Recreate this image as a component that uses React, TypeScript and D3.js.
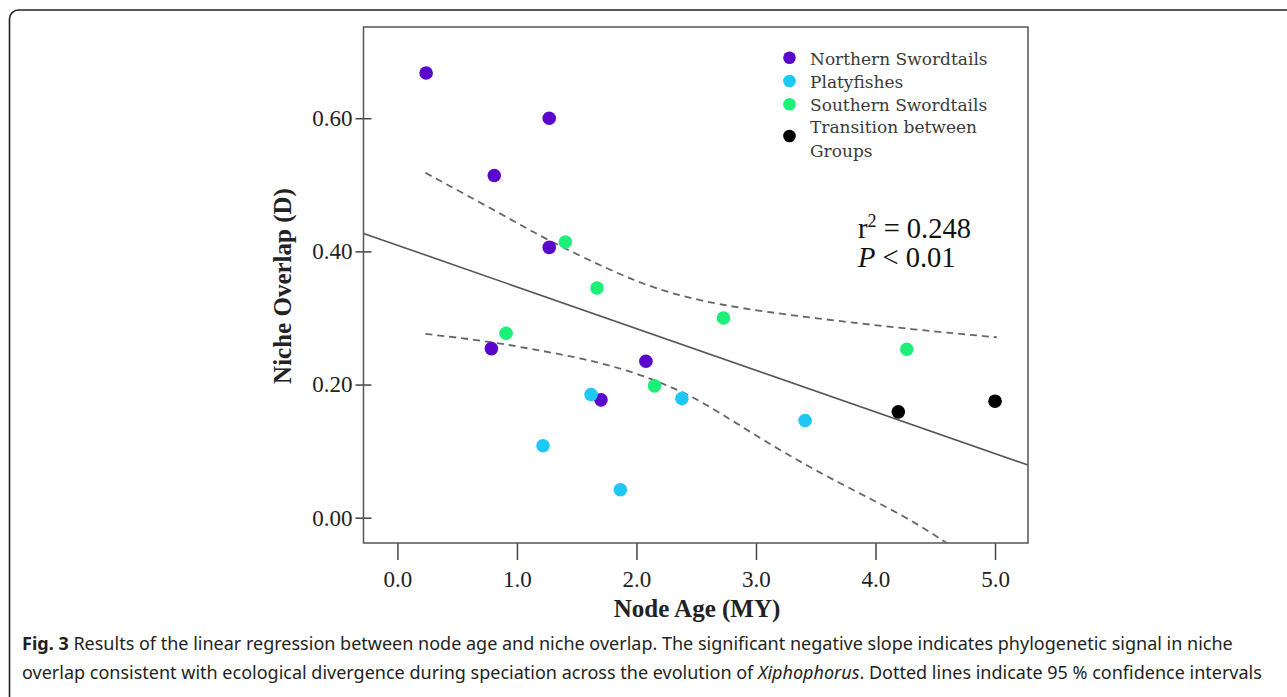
import React, { useEffect, useRef } from 'react';
import * as d3 from 'd3';

// values
const northern = [
  [0.24, 0.668], [1.27, 0.6], [0.81, 0.514], [1.27, 0.406],
  [0.786, 0.254], [2.079, 0.235], [1.703, 0.177],
];
const platy = [
  [1.62, 0.185], [1.218, 0.108], [1.865, 0.042], [2.38, 0.179], [3.411, 0.146],
];
const southern = [
  [1.405, 0.414], [1.67, 0.345], [2.728, 0.3], [0.909, 0.277], [2.151, 0.198], [4.262, 0.253],
];
const transition = [[4.191, 0.159], [5.0, 0.175]];

const fitLine = [[-0.284, 0.427], [5.276, 0.079]];
const upperCI = [
  [0.234, 0.518], [0.861, 0.457], [1.252, 0.417], [1.753, 0.374], [2.143, 0.344],
  [2.673, 0.319], [3.509, 0.299], [4.345, 0.282], [5.014, 0.271],
];
const lowerCI = [
  [0.234, 0.276], [0.722, 0.266], [1.14, 0.253], [1.558, 0.239], [1.976, 0.219],
  [2.255, 0.199], [2.533, 0.177], [3.146, 0.106], [3.704, 0.051], [4.262, 0.001], [4.596, -0.038],
];

const xTicks = [0, 1, 2, 3, 4, 5];
const yTicks = [0, 0.2, 0.4, 0.6];

const groups = [
  { name: 'Northern Swordtails', color: '#5a06cc', pts: northern },
  { name: 'Platyfishes', color: '#1fc8f4', pts: platy },
  { name: 'Southern Swordtails', color: '#1eef78', pts: southern },
  { name: 'Transition between|Groups', color: '#000000', pts: transition },
];

const captionLines = [
  [
    { t: 'Fig. 3', weight: 'bold', style: 'normal' },
    { t: ' Results of the linear regression between node age and niche overlap. The significant negative slope indicates phylogenetic signal in niche', weight: 'normal', style: 'normal' },
  ],
  [
    { t: 'overlap consistent with ecological divergence during speciation across the evolution of ', weight: 'normal', style: 'normal' },
    { t: 'Xiphophorus', weight: 'normal', style: 'italic' },
    { t: '. Dotted lines indicate 95 % confidence intervals', weight: 'normal', style: 'normal' },
  ],
];
const captionWidth = [1211, 1240];

const W = 1287;
const H = 697;
const plot = { left: 363.5, right: 1028, top: 27, bottom: 543 };

export default function App() {
  const svgRef = useRef<SVGSVGElement | null>(null);

  useEffect(() => {
    document.body.style.margin = '0';
    const svg = d3.select(svgRef.current);
    svg.selectAll('*').remove();

    const x = d3.scaleLinear().domain([-0.284, 5.276]).range([plot.left, plot.right]);
    const y = d3.scaleLinear().domain([-0.038, 0.737]).range([plot.bottom, plot.top]);

    // outer figure border
    svg.append('rect')
      .attr('x', 9.5).attr('y', 10).attr('width', 1290).attr('height', 700)
      .attr('rx', 9).attr('fill', 'none').attr('stroke', '#222').attr('stroke-width', 1.6);

    // y axis
    const yAxis = d3.axisLeft(y).tickValues(yTicks).tickSize(8).tickPadding(3)
      .tickFormat((d) => d3.format('.2f')(d as number));
    const gy = svg.append('g').attr('transform', `translate(${plot.left},0)`).call(yAxis);
    gy.select('.domain').remove();
    gy.selectAll('.tick line').attr('x1', 8).attr('x2', -8).attr('stroke', '#444').attr('stroke-width', 1.5);
    gy.selectAll('.tick text')
      .attr('font-family', '"Liberation Serif", serif').attr('font-size', 23).attr('fill', '#222');

    // x axis
    const xAxis = d3.axisBottom(x).tickValues(xTicks).tickSize(17).tickSizeOuter(0).tickPadding(11)
      .tickFormat((d) => d3.format('.1f')(d as number));
    const gx = svg.append('g').attr('transform', `translate(0,${plot.bottom})`).call(xAxis);
    gx.select('.domain').remove();
    gx.selectAll('.tick line').attr('stroke', '#444').attr('stroke-width', 1.5);
    gx.selectAll('.tick text')
      .attr('font-family', '"Liberation Serif", serif').attr('font-size', 23).attr('fill', '#222');

    // frame
    svg.append('rect')
      .attr('x', plot.left).attr('y', plot.top)
      .attr('width', plot.right - plot.left).attr('height', plot.bottom - plot.top)
      .attr('fill', 'none').attr('stroke', '#555').attr('stroke-width', 1.5);

    const line = d3.line<number[]>().x((d) => x(d[0])).y((d) => y(d[1]));
    const curve = d3.line<number[]>().x((d) => x(d[0])).y((d) => y(d[1])).curve(d3.curveBasis);

    svg.append('path').datum(fitLine).attr('d', line)
      .attr('fill', 'none').attr('stroke', '#555').attr('stroke-width', 1.6);
    [upperCI, lowerCI].forEach((ci) => {
      svg.append('path').datum(ci).attr('d', curve)
        .attr('fill', 'none').attr('stroke', '#666').attr('stroke-width', 1.8)
        .attr('stroke-dasharray', '7 5');
    });

    // points
    groups.forEach((g) => {
      svg.append('g').selectAll('circle').data(g.pts).enter().append('circle')
        .attr('cx', (d) => x(d[0])).attr('cy', (d) => y(d[1]))
        .attr('r', 6.8).attr('fill', g.color);
    });

    // legend
    const legendY = [57.7, 81, 104.3, 136];
    const leg = svg.append('g').attr('font-family', '"DejaVu Serif", serif').attr('font-size', 17).attr('fill', '#3a3a3a');
    groups.forEach((g, i) => {
      leg.append('circle').attr('cx', 789.5).attr('cy', legendY[i]).attr('r', 6.3).attr('fill', g.color);
      const parts = g.name.split('|');
      parts.forEach((p, j) => {
        const baseY = parts.length > 1 ? legendY[i] - 3 + j * 24 : legendY[i] + 7;
        leg.append('text').attr('x', 810).attr('y', baseY).text(p);
      });
    });

    // statistics annotation
    const ann = svg.append('g').attr('font-family', '"Liberation Serif", serif').attr('font-size', 28.5).attr('fill', '#111');
    const r2 = ann.append('text').attr('x', 858).attr('y', 238);
    r2.append('tspan').text('r');
    r2.append('tspan').attr('font-size', 18).attr('dy', -11).text('2');
    r2.append('tspan').attr('dy', 11).text(' = 0.248');
    const pv = ann.append('text').attr('x', 858).attr('y', 267);
    pv.append('tspan').attr('font-style', 'italic').text('P');
    pv.append('tspan').text(' < 0.01');

    // axis titles
    svg.append('text')
      .attr('x', 697).attr('y', 617).attr('text-anchor', 'middle')
      .attr('font-family', '"Liberation Serif", serif').attr('font-size', 25).attr('font-weight', 'bold')
      .attr('fill', '#222').text('Node Age (MY)');
    svg.append('text')
      .attr('transform', 'translate(291,286) rotate(-90)').attr('text-anchor', 'middle')
      .attr('font-family', '"Liberation Serif", serif').attr('font-size', 25).attr('font-weight', 'bold')
      .attr('fill', '#222').text('Niche Overlap (D)');

    // caption, each line squeezed to the width of the condensed original
    captionLines.forEach((segs, i) => {
      const g = svg.append('g');
      const txt = g.append('text').attr('x', 0).attr('y', 0)
        .attr('font-family', '"Noto Sans", sans-serif').attr('font-size', 18).attr('fill', '#231f20');
      segs.forEach((s) => {
        txt.append('tspan').attr('font-weight', s.weight).attr('font-style', s.style).text(s.t);
      });
      const node = txt.node() as SVGTextElement;
      const natural = node.getComputedTextLength() || captionWidth[i];
      const sx = captionWidth[i] / natural;
      g.attr('transform', `translate(22,${650 + i * 29}) scale(${sx},1)`);
    });
  }, []);

  return (
    <div>
      <svg ref={svgRef} width={W} height={H} style={{ display: 'block', background: '#fff' }} />
    </div>
  );
}
